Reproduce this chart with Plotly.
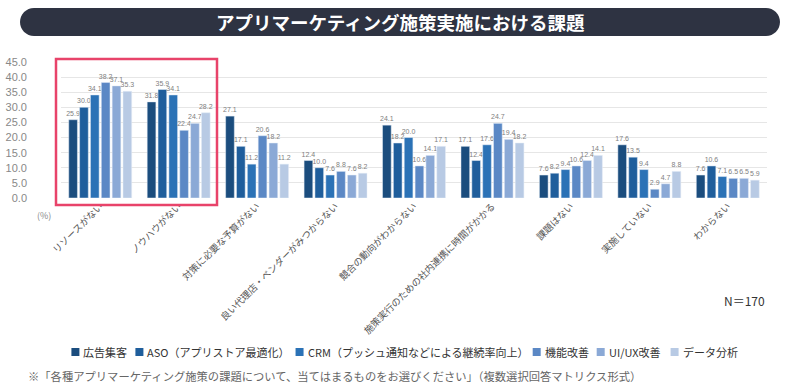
import plotly.graph_objects as go

categories = ["リソースがない", "ノウハウがない", "対策に必要な予算がない", "良い代理店・ベンダーがみつからない",
              "競合の動向がわからない", "施策実行のための社内連携に時間がかかる", "課題はない", "実施していない", "わからない"]
series_names = ["広告集客", "ASO（アプリストア最適化）", "CRM（プッシュ通知などによる継続率向上）", "機能改善", "UI/UX改善", "データ分析"]
ad = [25.9, 31.8, 27.1, 12.4, 24.1, 17.1, 7.6, 17.6, 7.6]
aso = [30.0, 35.9, 17.1, 10.0, 18.2, 12.4, 8.2, 13.5, 10.6]
crm = [34.1, 34.1, 11.2, 7.6, 20.0, 17.6, 9.4, 9.4, 7.1]
func = [38.2, 22.4, 20.6, 8.8, 10.6, 24.7, 10.6, 2.9, 6.5]
uiux = [37.1, 24.7, 18.2, 7.6, 14.1, 19.4, 12.4, 4.7, 6.5]
data = [35.3, 28.2, 11.2, 8.2, 17.1, 18.2, 14.1, 8.8, 5.9]
colors = ["#1b4d7e", "#1f5e9c", "#2b72b6", "#5b88c5", "#8ba9d6", "#b8cae4"]

FONT = "Noto Sans CJK JP"
L, R, T, B = 61, 33, 62, 192
W = 800 - L - R
H = 390 - T - B
def px(x):
    return (x - L) / W
def py(y):
    return (390 - B - y) / H

fig = go.Figure()
for name, vals, c in zip(series_names, [ad, aso, crm, func, uiux, data], colors):
    fig.add_trace(go.Bar(
        name=name, x=categories, y=vals, marker_color=c,
        text=[f"{v:.1f}" for v in vals], textposition="outside",
        textfont=dict(size=7, color="#808080", family="Liberation Sans"),
        constraintext="none", cliponaxis=False, showlegend=False,
    ))

def rounded_rect(x0, y0, x1, y1, r):
    k = 0.5523 * r
    def P(x, y):
        return f"{px(x):.5f},{py(y):.5f}"
    path = f"M{P(x0 + r, y0)} L{P(x1 - r, y0)} "
    path += f"C{P(x1 - r + k, y0)} {P(x1, y0 + r - k)} {P(x1, y0 + r)} "
    path += f"L{P(x1, y1 - r)} "
    path += f"C{P(x1, y1 - r + k)} {P(x1 - r + k, y1)} {P(x1 - r, y1)} "
    path += f"L{P(x0 + r, y1)} "
    path += f"C{P(x0 + r - k, y1)} {P(x0, y1 - r + k)} {P(x0, y1 - r)} "
    path += f"L{P(x0, y0 + r)} "
    path += f"C{P(x0, y0 + r - k)} {P(x0 + r - k, y0)} {P(x0 + r, y0)} Z"
    return path

fig.add_shape(type="path", path=rounded_rect(20, 8, 780, 36, 14), xref="paper", yref="paper",
              fillcolor="#2e3342", line=dict(width=0), layer="above")
fig.add_shape(type="rect", x0=px(56), x1=px(217), y0=py(205), y1=py(59), xref="paper", yref="paper",
              line=dict(color="#e8436a", width=2.5), fillcolor="rgba(0,0,0,0)")

fig.add_annotation(text="<b>アプリマーケティング施策実施における課題</b>", x=px(400), y=py(22), xref="paper", yref="paper",
                   showarrow=False, font=dict(size=18.5, color="white", family=FONT), xanchor="center", yanchor="middle")
fig.add_annotation(text="(%)", x=px(44), y=py(215), xref="paper", yref="paper", showarrow=False,
                   font=dict(size=9, color="#888888", family=FONT), xanchor="center", yanchor="middle")
fig.add_annotation(text="N＝170", x=px(767), y=py(300), xref="paper", yref="paper", showarrow=False,
                   font=dict(size=12, color="#333333", family=FONT), xanchor="right", yanchor="middle")
fig.add_annotation(text="※「各種アプリマーケティング施策の課題について、当てはまるものをお選びください」（複数選択回答マトリクス形式）",
                   x=px(26), y=py(376), xref="paper", yref="paper", showarrow=False,
                   font=dict(size=11.3, color="#666666", family=FONT), xanchor="left", yanchor="middle")

# manual legend
LS = 11
def text_w(s):
    return sum(LS if ord(ch) > 0x2000 else 0.58 * LS for ch in s)
SQ, SGAP, IGAP = 8, 3, 9
total = sum(SQ + SGAP + text_w(n) for n in series_names) + IGAP * (len(series_names) - 1)
cx = 404 - total / 2
ly = 352
for name, c in zip(series_names, colors):
    fig.add_shape(type="rect", x0=px(cx), x1=px(cx + SQ), y0=py(ly + SQ / 2), y1=py(ly - SQ / 2),
                  xref="paper", yref="paper", fillcolor=c, line=dict(width=0))
    fig.add_annotation(text=name, x=px(cx + SQ + SGAP), y=py(ly), xref="paper", yref="paper", showarrow=False,
                       font=dict(size=LS, color="#333333", family=FONT), xanchor="left", yanchor="middle",
                       borderpad=0)
    cx += SQ + SGAP + text_w(name) + IGAP

fig.update_layout(
    width=800, height=390,
    margin=dict(l=L, r=R, t=T, b=B, autoexpand=False),
    paper_bgcolor="white", plot_bgcolor="white",
    barmode="group", bargap=0.17, bargroupgap=0.2,
    font=dict(family=FONT),
    showlegend=False,
)
fig.update_yaxes(range=[0, 45], dtick=5, tickformat=".1f", showgrid=True, gridcolor="#e6e6e6",
                 zeroline=False, showline=False, ticks="", ticklabelstandoff=33, automargin=False,
                 tickfont=dict(size=11, color="#888888", family="Liberation Sans"))
fig.update_xaxes(tickangle=-45, showline=False, ticks="", showgrid=False, automargin=False,
                 tickfont=dict(size=9.5, color="#555555", family=FONT))

fig.write_html("out.html", config={"displayModeBar": False},
               post_script="document.body.style.margin='0';document.body.style.overflow='hidden';")
